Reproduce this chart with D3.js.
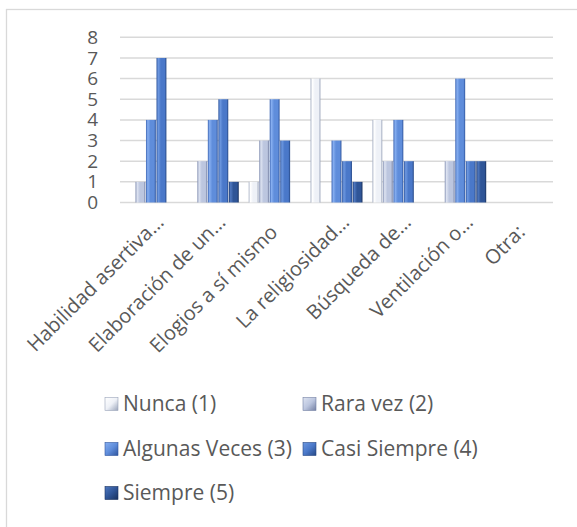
<!DOCTYPE html>
<html>
<head>
<meta charset="utf-8">
<script src="https://cdn.jsdelivr.net/npm/d3@7"></script>
<style>
  html, body { margin: 0; padding: 0; background: #ffffff; }
  svg { display: block; }
  text { font-family: "Open Sans", "Liberation Sans", sans-serif; fill: #595959; }
</style>
</head>
<body>
<svg id="chart" width="577" height="527"></svg>
<script>
// Coping strategies and how often each one is used
const categories = [
  "Habilidad asertiva…",
  "Elaboración de un…",
  "Elogios a sí mismo",
  "La religiosidad…",
  "Búsqueda de…",
  "Ventilación o…",
  "Otra:"
];
const seriesNames = ["Nunca (1)", "Rara vez (2)", "Algunas Veces (3)", "Casi Siempre (4)", "Siempre (5)"];
const nunca        = [0, 0, 1, 6, 4, 0, 0];
const raraVez      = [1, 2, 3, 0, 2, 2, 0];
const algunasVeces = [4, 4, 5, 3, 4, 6, 0];
const casiSiempre  = [7, 5, 3, 2, 2, 2, 0];
const siempre      = [0, 1, 0, 1, 0, 2, 0];
const yTicks = [0, 1, 2, 3, 4, 5, 6, 7, 8];

const seriesValues = [nunca, raraVez, algunasVeces, casiSiempre, siempre];

// bevel-style shading per series: [edge, highlight, body, dark edge]
const palette = [
  ["#aab3c6", "#ffffff", "#eef1f7", "#9aa4ba"],
  ["#8591b3", "#dde3f1", "#bcc6df", "#7480a3"],
  ["#3c65b3", "#86aef0", "#5f8ddb", "#2f559e"],
  ["#30579f", "#6d98e0", "#4a78c9", "#254784"],
  ["#1f3b70", "#4f78c0", "#2f5597", "#19315e"]
];

const svg = d3.select("#chart");
const defs = svg.append("defs");

palette.forEach((c, i) => {
  const g = defs.append("linearGradient")
    .attr("id", "bar" + i).attr("x1", "0").attr("x2", "1").attr("y1", "0").attr("y2", "0");
  g.append("stop").attr("offset", "0").attr("stop-color", c[0]);
  g.append("stop").attr("offset", "0.18").attr("stop-color", c[1]);
  g.append("stop").attr("offset", "0.45").attr("stop-color", c[2]);
  g.append("stop").attr("offset", "0.82").attr("stop-color", c[2]);
  g.append("stop").attr("offset", "1").attr("stop-color", c[3]);
  const m = defs.append("linearGradient")
    .attr("id", "mark" + i).attr("x1", "0").attr("x2", "1").attr("y1", "0").attr("y2", "1");
  m.append("stop").attr("offset", "0").attr("stop-color", c[1]);
  m.append("stop").attr("offset", "0.5").attr("stop-color", c[2]);
  m.append("stop").attr("offset", "1").attr("stop-color", c[3]);
});

// outer frame of the chart area
svg.append("rect")
  .attr("x", 6.5).attr("y", 9.5).attr("width", 600).attr("height", 600)
  .attr("fill", "none").attr("stroke", "#d9d9d9").attr("stroke-width", 1.3);

const x0 = d3.scaleBand().domain(categories).range([120, 553])
  .paddingInner(0.15).paddingOuter(0.075);
const x1 = d3.scaleBand().domain(d3.range(seriesNames.length)).range([0, x0.bandwidth()]);
const y = d3.scaleLinear().domain([0, 8]).range([202.5, 37.3]);

// horizontal gridlines
svg.append("g").selectAll("line").data(yTicks).join("line")
  .attr("x1", 120).attr("x2", 553)
  .attr("y1", d => y(d)).attr("y2", d => y(d))
  .attr("stroke", "#d9d9d9").attr("stroke-width", 1.5);

// y-axis tick labels
const yAxis = d3.axisLeft(y).tickValues(yTicks).tickFormat(d3.format("d")).tickSize(0).tickPadding(0);
const yg = svg.append("g").attr("transform", "translate(98,0)").call(yAxis);
yg.select(".domain").remove();
yg.selectAll("text").attr("font-size", 19).attr("fill", "#595959")
  .style("font-family", "'Open Sans', sans-serif");

// grouped bars
const groups = svg.append("g").selectAll("g").data(categories).join("g")
  .attr("transform", d => `translate(${x0(d)},0)`);
groups.selectAll("rect")
  .data((d, ci) => seriesValues.map((vals, si) => ({ si, v: vals[ci] })).filter(b => b.v > 0))
  .join("rect")
  .attr("x", b => x1(b.si) + 0.3)
  .attr("width", x1.bandwidth() - 0.6)
  .attr("y", b => y(b.v))
  .attr("height", b => y(0) - y(b.v))
  .attr("fill", b => `url(#bar${b.si})`);

// category labels, rotated; untruncated labels sit a little further back
const xAxis = d3.axisBottom(x0).tickSize(0).tickPadding(0);
const xg = svg.append("g").attr("transform", `translate(0,${y(0)})`).call(xAxis);
xg.select(".domain").remove();
xg.selectAll("text")
  .attr("font-size", 20).attr("fill", "#595959")
  .style("font-family", "'Open Sans', sans-serif")
  .attr("text-anchor", "end")
  .attr("dy", null)
  .attr("dx", d => d.endsWith("…") ? 0 : -14)
  .attr("transform", "translate(14,21) rotate(-45)");

// legend
const legendPos = [[105, 404], [303, 404], [105, 449], [303, 449], [105, 493]];
const legend = svg.append("g").selectAll("g").data(seriesNames).join("g")
  .attr("transform", (d, i) => `translate(${legendPos[i][0]},${legendPos[i][1]})`);
legend.append("rect")
  .attr("x", 0).attr("y", -6.5).attr("width", 13).attr("height", 13)
  .attr("fill", (d, i) => `url(#mark${i})`)
  .attr("stroke", (d, i) => palette[i][3]).attr("stroke-width", 0.6);
legend.append("text")
  .attr("x", 18).attr("y", 0).attr("dy", "0.35em")
  .attr("font-size", 21)
  .text(d => d);
</script>
</body>
</html>
